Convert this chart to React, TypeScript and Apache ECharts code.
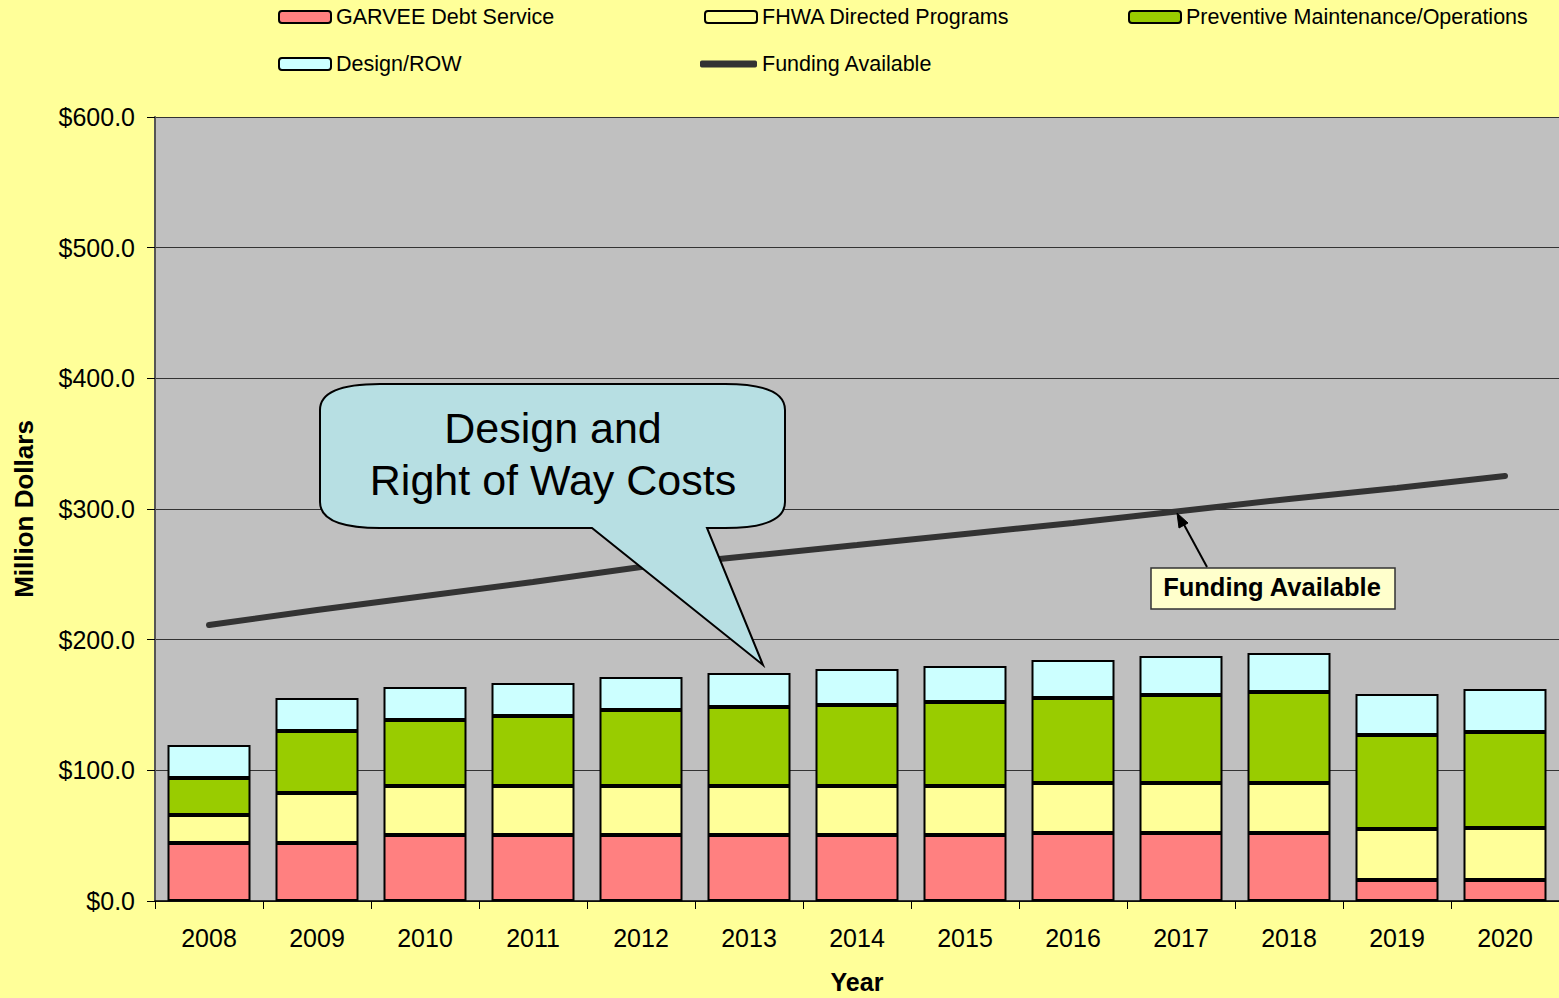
import React, { useEffect, useRef } from "react";
import * as echarts from "echarts";

const years = ["2008", "2009", "2010", "2011", "2012", "2013", "2014", "2015", "2016", "2017", "2018", "2019", "2020"];
const garvee = [44.4, 44.4, 50.5, 50.5, 50.5, 50.5, 50.5, 50.5, 52.0, 52.0, 52.0, 16.1, 16.1];
const fhwa = [21.4, 38.2, 37.5, 37.5, 37.5, 37.5, 37.5, 37.5, 38.3, 38.3, 38.3, 39.0, 39.8];
const preventive = [28.3, 47.5, 50.5, 53.6, 58.2, 60.5, 62.0, 64.3, 65.1, 67.3, 69.7, 71.9, 73.4];
const designRow = [25.3, 25.3, 25.3, 25.2, 25.2, 26.0, 27.5, 27.5, 29.0, 29.9, 29.8, 31.4, 32.9];
const funding = [211.2, 222.7, 233.4, 244.1, 255.6, 264.0, 272.4, 280.9, 289.3, 298.5, 307.7, 316.1, 325.3];
const yTicks = { min: 0, max: 600, interval: 100 };

const FONT = "'Liberation Sans', Arial, sans-serif";

const calloutPath =
  "M380,384 L725,384 Q785,384 785,410 L785,502 Q785,528 725,528 L707,528 L763,665 L592,528 L380,528 Q320,528 320,502 L320,410 Q320,384 380,384 Z";
echarts.graphic.registerShape("callout", echarts.graphic.extendPath(calloutPath, {}));

export default function App() {
  const ref = useRef<HTMLDivElement>(null);
  useEffect(() => {
    document.body.style.margin = "0";
    const chart = echarts.init(ref.current!, null, { renderer: "svg" });
    const barStyle = (color: string) => ({ color, borderColor: "#000", borderWidth: 2 });
    const legendBase = {
      padding: 0,
      itemWidth: 52,
      itemHeight: 12,
      itemGap: 5,
      textStyle: { fontFamily: FONT, fontSize: 21.5, color: "#000" },
      selectedMode: false,
    };
    chart.setOption({
      animation: false,
      backgroundColor: "#ffff99",
      legend: [
        { ...legendBase, left: 278, top: 6, data: ["GARVEE Debt Service"] },
        { ...legendBase, left: 704, top: 6, data: ["FHWA Directed Programs"] },
        { ...legendBase, left: 1128, top: 6, data: ["Preventive Maintenance/Operations"] },
        { ...legendBase, left: 278, top: 53, data: ["Design/ROW"] },
        {
          ...legendBase,
          left: 700,
          top: 53,
          itemWidth: 57,
          itemHeight: 7,
          data: [{ name: "Funding Available", icon: "roundRect", itemStyle: { color: "#333333", borderWidth: 0 } }],
        },
      ],
      grid: {
        left: 155,
        top: 117,
        right: 0,
        bottom: 97,
        outerBoundsMode: "none",
        containLabel: false,
        show: true,
        backgroundColor: "#c0c0c0",
        borderWidth: 0,
      },
      xAxis: {
        type: "category",
        data: years,
        name: "Year",
        nameLocation: "middle",
        nameGap: 68,
        nameTextStyle: { fontFamily: FONT, fontSize: 25, fontWeight: "bold", color: "#000" },
        axisLine: { lineStyle: { color: "#000", width: 1.5 } },
        axisTick: { show: true, length: 8, lineStyle: { color: "#000" } },
        axisLabel: { fontFamily: FONT, fontSize: 25, color: "#000", margin: 24 },
      },
      yAxis: {
        type: "value",
        min: yTicks.min,
        max: yTicks.max,
        interval: yTicks.interval,
        name: "Million Dollars",
        nameLocation: "middle",
        nameGap: 118,
        nameTextStyle: { fontFamily: FONT, fontSize: 26, fontWeight: "bold", color: "#000" },
        axisLine: { show: true, lineStyle: { color: "#555", width: 2 } },
        axisTick: { show: true, length: 8, lineStyle: { color: "#000" } },
        axisLabel: {
          fontFamily: FONT,
          fontSize: 25,
          color: "#000",
          margin: 20,
          formatter: (v: number) => "$" + v.toFixed(1),
        },
        splitLine: { show: true, lineStyle: { color: "#333", width: 1 } },
      },
      series: [
        { name: "GARVEE Debt Service", type: "bar", stack: "a", barWidth: 83, data: garvee, itemStyle: barStyle("#ff8080") },
        { name: "FHWA Directed Programs", type: "bar", stack: "a", barWidth: 83, data: fhwa, itemStyle: barStyle("#ffff99") },
        { name: "Preventive Maintenance/Operations", type: "bar", stack: "a", barWidth: 83, data: preventive, itemStyle: barStyle("#99cc00") },
        { name: "Design/ROW", type: "bar", stack: "a", barWidth: 83, data: designRow, itemStyle: barStyle("#ccffff") },
        {
          name: "Funding Available",
          type: "line",
          data: funding,
          symbol: "none",
          z: 5,
          itemStyle: { color: "#333333" },
          lineStyle: { color: "#333333", width: 6, cap: "round" },
        },
      ],
      graphic: [
        {
          type: "callout",
          x: 0,
          y: 0,
          z: 100,
          style: { fill: "#b7dfe3", stroke: "#000", lineWidth: 2 },
        },
        {
          type: "text",
          x: 553,
          y: 454,
          z: 101,
          style: {
            text: "Design and\nRight of Way Costs",
            fontFamily: FONT,
            fontSize: 43,
            lineHeight: 52,
            fill: "#000",
            align: "center",
            verticalAlign: "middle",
          },
        },
        {
          type: "rect",
          z: 100,
          shape: { x: 1151, y: 568, width: 244, height: 41 },
          style: { fill: "#ffffcc", stroke: "#333", lineWidth: 1.5 },
        },
        {
          type: "text",
          x: 1272,
          y: 587,
          z: 101,
          style: {
            text: "Funding Available",
            fontFamily: FONT,
            fontSize: 25.5,
            fontWeight: "bold",
            fill: "#000",
            align: "center",
            verticalAlign: "middle",
          },
        },
        {
          type: "line",
          z: 100,
          shape: { x1: 1207, y1: 567, x2: 1182, y2: 521 },
          style: { stroke: "#000", lineWidth: 2 },
        },
        {
          type: "polygon",
          z: 100,
          shape: { points: [[1177, 513], [1188, 523], [1179, 528]] },
          style: { fill: "#000", stroke: "#000", lineWidth: 1 },
        },
      ],
    });
    return () => chart.dispose();
  }, []);
  return <div ref={ref} style={{ position: "absolute", left: 0, top: 0, width: 1559, height: 998 }} />;
}
